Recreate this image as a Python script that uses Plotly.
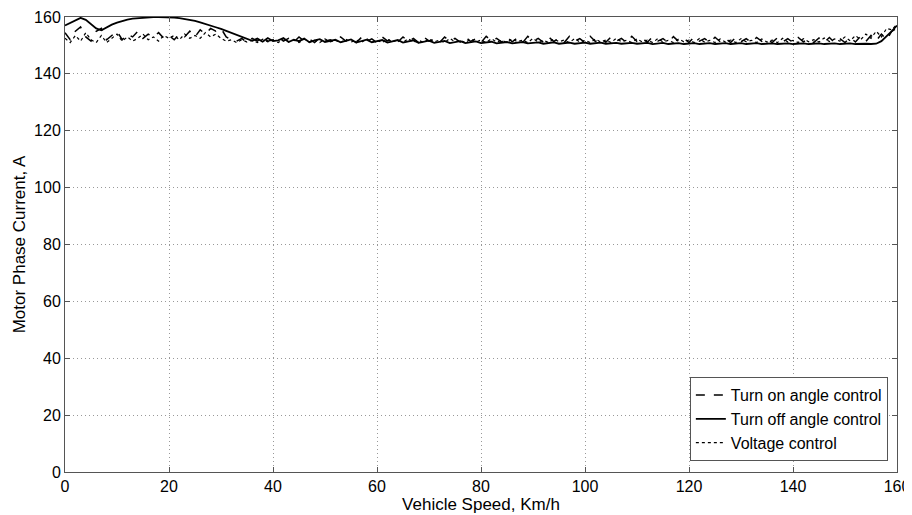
import plotly.graph_objects as go

speed = list(range(0, 161))

turn_on = [
    154.5, 152, 155, 156.5, 153, 151.5, 155, 156, 152, 153.5,
    155, 152, 154, 153, 155, 152.5, 154, 153, 154.5, 152.5,
    153.5, 152, 154, 153, 155, 153, 155.5, 154, 156, 155,
    156, 153, 152, 151.5, 152.5, 151, 152.5, 151.5, 153, 151.5,
    152, 153, 151.5, 152.5, 151.2, 153, 151.5, 152.2, 151, 152.8,
    151.5, 152, 151.2, 153, 151.5, 152.4, 151, 152.8, 151.4, 152.3,
    151, 153, 151.6, 152.2, 151.2, 153, 151.4, 152.5, 151, 153,
    151.5, 152.3, 151, 153, 151.5, 152.5, 151.2, 153, 151.4, 152.4,
    151, 153.2, 151.6, 152.5, 151.2, 153, 151.3, 152.6, 151, 153.2,
    151.5, 152.5, 151.1, 153, 151.4, 152.6, 151, 153.2, 151.5, 152.4,
    151, 153.2, 151.4, 152.6, 151.1, 153, 151.5, 152.5, 151, 153.2,
    151.4, 152.6, 151.1, 153, 151.5, 152.4, 151, 153.1, 151.4, 152.5,
    151, 153, 151.5, 152.4, 151.1, 152.9, 151.3, 152.5, 151, 152.8,
    151.3, 152.4, 151, 152.8, 151.4, 152.3, 151, 152.7, 151.2, 152.4,
    151, 152.8, 151.3, 152.2, 151, 152.6, 151.1, 152.8, 151, 152.4,
    151, 152.8, 151.2, 153.2, 151.4, 153.5, 151.6, 154, 152, 155,
    156,
]

turn_off = [
    157, 158, 159, 159.7, 159, 157.5, 156, 155.3, 156.3, 157.3,
    158, 158.6, 159.1, 159.4, 159.6, 159.8, 159.9, 160, 160, 160,
    159.9, 159.8, 159.6, 159.3, 159, 158.6, 158.1, 157.6, 157, 156.4,
    155.8, 155.1, 154.4, 153.7, 153, 152.3, 151.6, 152.4, 151.3, 152.6,
    151.5, 151.8, 152.6, 151.2, 152, 151.5, 152.4, 151.1, 151.8, 152.2,
    151.2, 151.6, 152, 151.1, 151.5, 152.1, 151, 151.6, 152, 151.1,
    151.4, 151.9, 151, 151.5, 151.9, 151, 151.3, 151.8, 150.9, 151.4,
    151.7, 150.9, 151.3, 151.6, 150.8, 151.2, 151.5, 150.8, 151.1, 151.4,
    150.8, 151, 151.3, 150.7, 151, 151.2, 150.7, 150.9, 151.2, 150.7,
    150.9, 151.1, 150.6, 150.9, 151.1, 150.6, 150.8, 151, 150.6, 150.8,
    151, 150.6, 150.8, 151, 150.6, 150.8, 150.9, 150.6, 150.8, 150.9,
    150.6, 150.7, 150.9, 150.5, 150.7, 150.9, 150.5, 150.7, 150.8, 150.5,
    150.7, 150.8, 150.5, 150.7, 150.8, 150.5, 150.6, 150.8, 150.5, 150.6,
    150.8, 150.5, 150.6, 150.8, 150.5, 150.6, 150.7, 150.5, 150.6, 150.7,
    150.5, 150.6, 150.7, 150.5, 150.6, 150.7, 150.5, 150.6, 150.7, 150.5,
    150.6, 150.7, 150.5, 150.6, 150.6, 150.5, 150.6, 151.5, 153.2, 155,
    157,
]

voltage = [
    152.5, 151, 153.5, 151.5, 154.5, 152, 151, 153.5, 151, 152.5,
    154, 151.5, 153, 151.5, 152.5, 154, 152, 153, 151.5, 153.5,
    152.5, 153.5, 152, 154, 152.5, 153.5, 152.5, 154.5, 153, 154,
    152.5, 151.5, 152, 151, 152, 151.2, 151.8, 151, 152.2, 151.3,
    151.8, 151, 152.4, 151.3, 151.9, 151, 152.2, 151.2, 151.8, 151,
    152.3, 151.3, 151.8, 151, 152.2, 151.2, 151.9, 151, 152.4, 151.2,
    151.8, 151, 152.2, 151.3, 151.9, 151, 152.4, 151.2, 151.8, 151,
    152.3, 151.2, 151.9, 151, 152.5, 151.3, 151.8, 151, 152.3, 151.2,
    151.9, 151, 152.4, 151.2, 151.8, 151, 152.3, 151.3, 151.9, 151,
    152.5, 151.2, 151.8, 151, 152.3, 151.3, 151.9, 151, 152.4, 151.2,
    151.8, 151, 152.3, 151.2, 151.9, 151, 152.5, 151.3, 151.8, 151,
    152.3, 151.2, 151.9, 151, 152.4, 151.2, 151.8, 151, 152.3, 151.3,
    151.9, 151, 152.4, 151.2, 151.8, 151, 152.3, 151.2, 151.9, 151,
    152.4, 151.3, 151.8, 151, 152.3, 151.2, 151.9, 151, 152.5, 151.2,
    151.8, 151, 152.4, 151.3, 152, 151.2, 152.6, 151.4, 152.3, 151.5,
    153, 151.6, 153.5, 152, 154, 152.5, 155, 153, 156, 155.5,
    157.5,
]

x_ticks = [0, 20, 40, 60, 80, 100, 120, 140, 160]
y_ticks = [0, 20, 40, 60, 80, 100, 120, 140, 160]

FONT = "Liberation Sans, Arial, sans-serif"

fig = go.Figure()
fig.add_trace(go.Scatter(x=speed, y=turn_on, mode="lines", name="Turn on angle control",
                         line=dict(color="black", width=1.5, dash="dash")))
fig.add_trace(go.Scatter(x=speed, y=turn_off, mode="lines", name="Turn off angle control",
                         line=dict(color="black", width=1.8)))
fig.add_trace(go.Scatter(x=speed, y=voltage, mode="lines", name="Voltage control",
                         line=dict(color="black", width=1.2, dash="dot")))

axis_common = dict(
    showline=True, linecolor="#555555", linewidth=1, mirror="ticks",
    ticks="inside", ticklen=5, tickcolor="#555555",
    showgrid=True, gridcolor="#999999", gridwidth=1, griddash="1px,3px",
    zeroline=False, automargin=False,
    tickfont=dict(family=FONT, size=16, color="black"),
)

# page body has an 8px default margin; the figure is sized to fit inside it
fig.update_layout(
    width=904, height=507,
    margin=dict(l=57, r=15, t=9, b=43, autoexpand=False),
    paper_bgcolor="white", plot_bgcolor="white",
    font=dict(family=FONT, color="black"),
    showlegend=True,
    legend=dict(
        x=0.989, y=0.024, xanchor="right", yanchor="bottom",
        bgcolor="white", bordercolor="#555555", borderwidth=1,
        font=dict(family=FONT, size=16, color="black"),
        tracegroupgap=0, itemwidth=30,
    ),
)
fig.update_xaxes(range=[0, 160], tickvals=x_ticks,
                 title=dict(text="Vehicle Speed, Km/h", font=dict(family=FONT, size=17), standoff=2),
                 **axis_common)
fig.update_yaxes(range=[0, 160], tickvals=y_ticks,
                 title=dict(text="Motor Phase Current, A", font=dict(family=FONT, size=17), standoff=4),
                 **axis_common)

fig.write_html("out.html")
